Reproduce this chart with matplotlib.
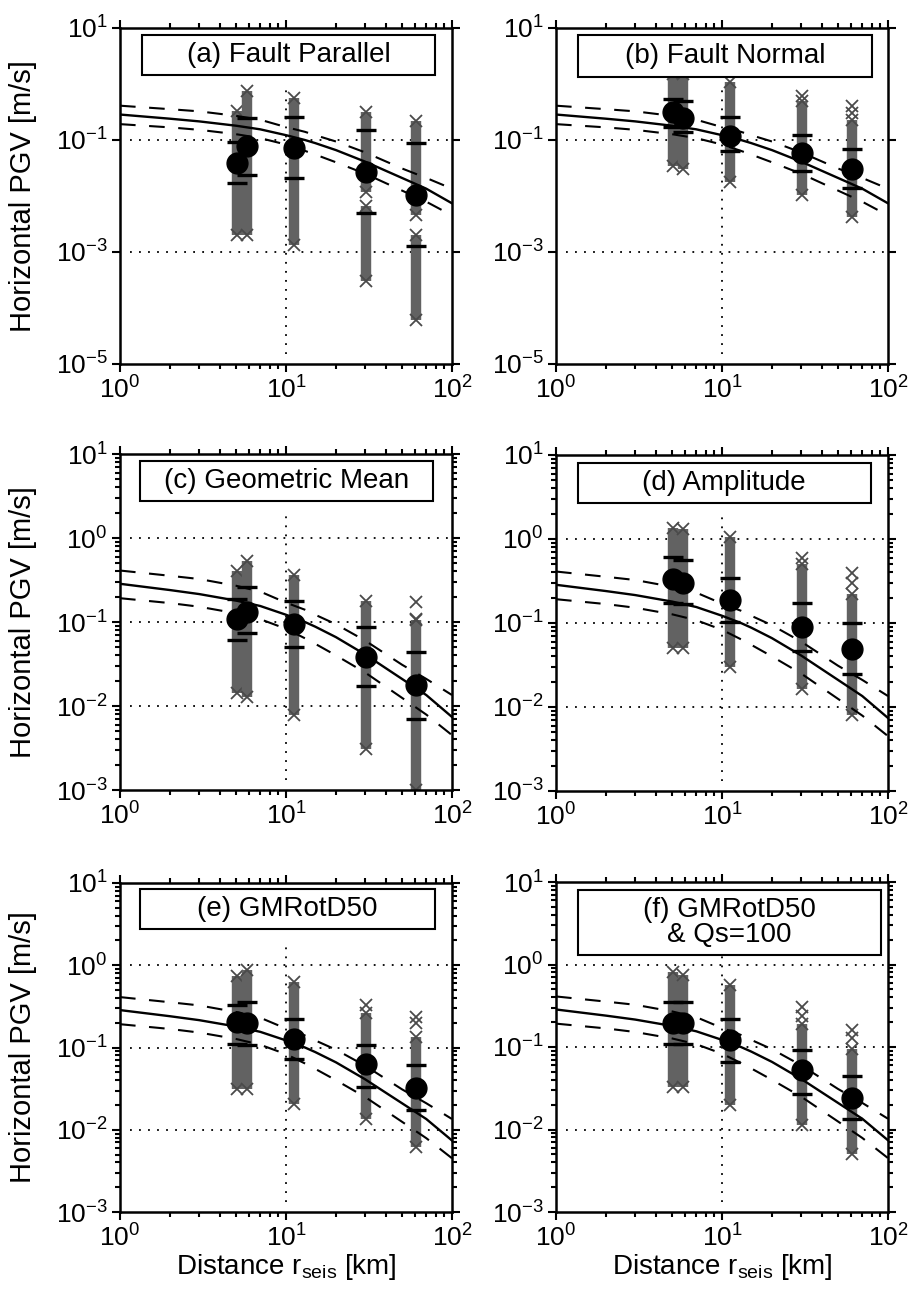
import matplotlib
matplotlib.use('Agg')
import matplotlib.pyplot as plt
from matplotlib.patches import Rectangle
from matplotlib.ticker import LogLocator, FixedLocator, NullFormatter, LogFormatterSciNotation

plt.rcParams['font.family'] = ['Liberation Sans', 'DejaVu Sans']
plt.rcParams['mathtext.fontset'] = 'custom'
plt.rcParams['mathtext.rm'] = 'Liberation Sans'
plt.rcParams['mathtext.it'] = 'Liberation Sans:italic'
plt.rcParams['mathtext.bf'] = 'Liberation Sans:bold'
plt.rcParams['mathtext.default'] = 'regular'

# ---------------- data ----------------
distances = [5.1, 5.85, 11.1, 30.4, 60.8]

curve_r = [1, 2, 3, 5, 7, 10, 13, 15, 20, 30, 50, 70, 100]
curve_median = [0.285, 0.24, 0.215, 0.18, 0.155, 0.122, 0.100, 0.088, 0.066, 0.041, 0.021, 0.0135, 0.0074]
curve_upper = [0.41, 0.355, 0.325, 0.27, 0.23, 0.17, 0.14, 0.122, 0.094, 0.060, 0.031, 0.021, 0.0135]
curve_lower = [0.192, 0.168, 0.152, 0.127, 0.108, 0.083, 0.064, 0.055, 0.040, 0.025, 0.0125, 0.0079, 0.0045]

titles = ['(a) Fault Parallel', '(b) Fault Normal', '(c) Geometric Mean',
          '(d) Amplitude', '(e) GMRotD50', '(f) GMRotD50\n& Qs=100']

# (a) Fault Parallel
a_median = [0.039, 0.077, 0.072, 0.0265, 0.0106]
a_plus = [0.091, 0.247, 0.26, 0.15, 0.088]
a_minus = [0.017, 0.024, 0.021, 0.005, 0.0013]
a_clusters = [[(0.002, 0.33)], [(0.002, 0.75)], [(0.00135, 0.57)],
              [(0.012, 0.32), (0.0003, 0.0065)], [(0.0045, 0.22), (6e-5, 0.002)]]
a_outliers = [[], [], [], [], []]

# (b) Fault Normal
b_median = [0.31, 0.25, 0.12, 0.059, 0.030]
b_plus = [0.55, 0.50, 0.26, 0.124, 0.069]
b_minus = [0.17, 0.14, 0.063, 0.0275, 0.0139]
b_clusters = [[(0.034, 1.5)], [(0.030, 1.5)], [(0.018, 1.1)], [(0.0106, 0.5)], [(0.0043, 0.23)]]
b_outliers = [[], [], [], [0.6], [0.40, 0.3]]

# (c) Geometric Mean
c_median = [0.108, 0.133, 0.095, 0.038, 0.0178]
c_plus = [0.19, 0.26, 0.18, 0.087, 0.0445]
c_minus = [0.061, 0.074, 0.050, 0.0175, 0.0070]
c_clusters = [[(0.0142, 0.40)], [(0.0129, 0.53)], [(0.0078, 0.365)], [(0.0031, 0.18)], [(0.001, 0.105)]]
c_outliers = [[], [], [], [], [0.175, 0.11]]

# (d) Amplitude
d_median = [0.33, 0.30, 0.187, 0.09, 0.0497]
d_plus = [0.61, 0.57, 0.34, 0.174, 0.101]
d_minus = [0.175, 0.167, 0.103, 0.047, 0.025]
d_clusters = [[(0.05, 1.34)], [(0.05, 1.3)], [(0.030, 1.06)], [(0.0166, 0.5)], [(0.008, 0.22)]]
d_outliers = [[], [], [], [0.59], [0.39, 0.3]]

# (e) GMRotD50
e_median = [0.205, 0.20, 0.126, 0.0624, 0.032]
e_plus = [0.33, 0.36, 0.22, 0.108, 0.061]
e_minus = [0.11, 0.107, 0.073, 0.033, 0.0175]
e_clusters = [[(0.0316, 0.75)], [(0.0316, 0.87)], [(0.0207, 0.625)], [(0.0136, 0.26)], [(0.0062, 0.134)]]
e_outliers = [[], [], [], [0.326], [0.235, 0.2]]

# (f) GMRotD50 & Qs=100
f_median = [0.195, 0.195, 0.12, 0.053, 0.024]
f_plus = [0.35, 0.35, 0.22, 0.093, 0.045]
f_minus = [0.11, 0.11, 0.066, 0.027, 0.0135]
f_clusters = [[(0.033, 0.8)], [(0.033, 0.75)], [(0.0196, 0.56)], [(0.0112, 0.19)], [(0.0051, 0.095)]]
f_outliers = [[], [], [], [0.305, 0.24], [0.159, 0.13]]

panels = [
    (a_median, a_plus, a_minus, a_clusters, a_outliers),
    (b_median, b_plus, b_minus, b_clusters, b_outliers),
    (c_median, c_plus, c_minus, c_clusters, c_outliers),
    (d_median, d_plus, d_minus, d_clusters, d_outliers),
    (e_median, e_plus, e_minus, e_clusters, e_outliers),
    (f_median, f_plus, f_minus, f_clusters, f_outliers),
]

# ---------------- layout ----------------
W, H = 911, 1304
fig = plt.figure(figsize=(W / 100, H / 100), dpi=100)

def rect(left, top, right, bottom):
    return [left / W, 1 - bottom / H, (right - left) / W, (bottom - top) / H]

axes_rects = [
    rect(120, 28, 452, 364), rect(556, 28, 888, 364),
    rect(120, 454, 452, 790), rect(556, 455, 888, 791),
    rect(120, 883, 452, 1212), rect(556, 882, 888, 1212),
]
box_coords = [
    (0.066, 0.949, 0.860, 0.979), (0.066, 0.952, 0.854, 0.979),
    (0.060, 0.943, 0.859, 0.978), (0.065, 0.948, 0.857, 0.977),
    (0.060, 0.949, 0.859, 0.981), (0.065, 0.978, 0.778, 0.977),
]

GRAY = '#626262'
dot_ls = (0, (1, 4))
dash_ls = (0, (7.5, 6.5))

for i, (med, plus, minus, clusters, outliers) in enumerate(panels):
    ax = fig.add_axes(axes_rects[i])
    ax.set_xscale('log')
    ax.set_yscale('log')
    ax.set_xlim(1, 100)
    if i < 2:
        ax.set_ylim(1e-5, 1e1)
        ax.yaxis.set_major_locator(FixedLocator([1e-5, 1e-3, 1e-1, 1e1]))
        ax.yaxis.set_minor_locator(FixedLocator([]))
        grid_y = [1e-1, 1e-3]
    else:
        ax.set_ylim(1e-3, 1e1)
        ax.yaxis.set_major_locator(LogLocator(base=10, numticks=10))
        ax.yaxis.set_minor_locator(LogLocator(base=10, subs=range(2, 10), numticks=20))
        grid_y = [1e0, 1e-1, 1e-2]
    ax.yaxis.set_major_formatter(LogFormatterSciNotation())
    ax.yaxis.set_minor_formatter(NullFormatter())
    ax.xaxis.set_major_locator(FixedLocator([1, 10, 100]))
    ax.xaxis.set_minor_locator(LogLocator(base=10, subs=range(2, 10), numticks=10))
    ax.xaxis.set_major_formatter(LogFormatterSciNotation())
    ax.xaxis.set_minor_formatter(NullFormatter())

    for s in ax.spines.values():
        s.set_linewidth(1.8)
    ax.tick_params(which='both', direction='out', top=True, right=True,
                   labelsize=19, width=1.5)
    ax.tick_params(which='major', length=6, pad=3)
    ax.tick_params(which='minor', length=3.5)

    # dotted reference lines
    for yv in grid_y:
        ax.axhline(yv, xmin=0.03, xmax=1.0, color='k', lw=1.3, ls=dot_ls, zorder=1)
    ax.axvline(10, ymin=0.03, ymax=0.82, color='k', lw=1.3, ls=dot_ls, zorder=1)

    # simulated data columns
    for x, cl, outs in zip(distances, clusters, outliers):
        for lo, hi in cl:
            ax.vlines(x, lo, hi, colors=GRAY, lw=7.5, zorder=2)
            ax.plot([x, x], [lo, hi], 'x', color='#4a4a4a', ms=8, mew=1.3, zorder=2)
        if outs:
            ax.plot([x] * len(outs), outs, 'x', color='#4a4a4a', ms=8, mew=1.3, zorder=2)

    # GMPE curves
    ax.plot(curve_r, curve_median, color='k', lw=1.7, zorder=3)
    ax.plot(curve_r, curve_upper, color='k', lw=1.5, ls=dash_ls, zorder=3)
    ax.plot(curve_r, curve_lower, color='k', lw=1.5, ls=dash_ls, zorder=3)

    # median and +/- sigma
    ax.plot(distances, plus, '_', color='k', ms=14, mew=2.4, zorder=4)
    ax.plot(distances, minus, '_', color='k', ms=14, mew=2.4, zorder=4)
    ax.plot(distances, med, 'o', color='k', ms=15, zorder=5)

    # label box
    x0, x1, y0, y1 = box_coords[i]
    ax.add_patch(Rectangle((x0, y0), x1 - x0, y1 - y0, transform=ax.transAxes,
                           facecolor='white', edgecolor='k', lw=1.5, zorder=6))
    ax.text((x0 + x1) / 2, (y0 + y1) / 2, titles[i], transform=ax.transAxes,
            ha='center', va='center', fontsize=20, linespacing=0.95, zorder=7)

    if i % 2 == 0:
        ax.set_ylabel('Horizontal PGV [m/s]', fontsize=21)
        ax.yaxis.set_label_coords(-0.25, 0.5)
    if i >= 4:
        ax.set_xlabel(r'Distance r$_{\mathrm{seis}}$ [km]', fontsize=20, labelpad=0)

fig.savefig('out.png', dpi=100)
